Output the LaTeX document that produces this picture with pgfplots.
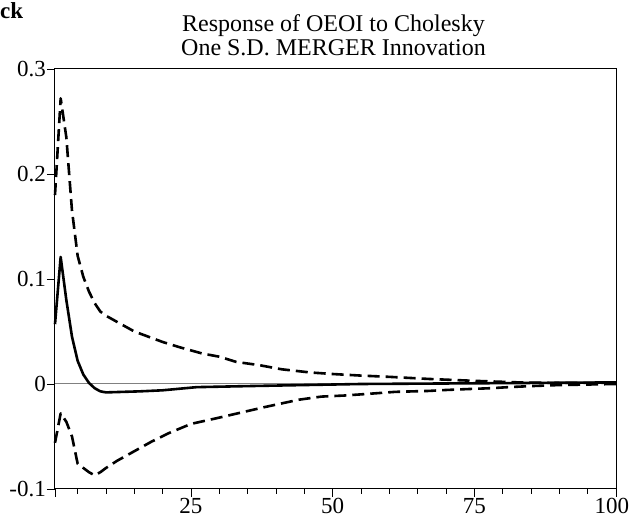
\documentclass[border=0pt]{standalone}
\usepackage{pgfplots}
\pgfplotsset{compat=1.18}
\usepackage{fontspec}
\setmainfont{Liberation Serif}
\begin{document}
\begin{tikzpicture}
\path[use as bounding box] (-55pt,-32pt) rectangle (575pt,489pt);
\begin{axis}[
  at={(0,0)}, anchor=south west,
  scale only axis, width=561pt, height=420pt,
  xmin=1, xmax=100, ymin=-0.1, ymax=0.3,
  axis line style={line width=1pt, black},
  tick align=outside,
  xtick={1,25,50,75,100}, xticklabels={,25,50,75,\makebox[26pt][r]{100}},
  minor xtick={5,10,15,20,30,35,40,45,55,60,65,70,80,85,90,95},
  ytick={-0.1,0,0.1,0.2,0.3}, yticklabels={-0.1,0,0.1,0.2,0.3},
  xtick pos=bottom, ytick pos=left,
  major tick length=8pt, minor tick length=5pt,
  tick style={black, line width=0.8pt},
  every tick label/.append style={font=\fontsize{23}{25}\selectfont},
  yticklabel style={inner sep=1pt},
  xticklabel style={inner sep=1pt},
  every axis plot/.append style={line join=round},
  clip=false,
]
\addplot[gray, line width=1pt] coordinates {(1,0) (100,0)};
\addplot[black, line width=2.6pt, dash pattern=on 12pt off 6pt] coordinates {
(1,0.180) (2,0.272) (3,0.235) (4,0.165) (5,0.122) (6,0.102) (7,0.088) (8,0.077) (9,0.069) (10,0.065)
(11,0.062) (13,0.056) (15,0.050) (18,0.044) (20,0.040) (23,0.035) (27,0.029) (30,0.026) (33,0.021)
(37,0.018) (41,0.014) (46,0.011) (50,0.0095) (55,0.008) (60,0.0068) (67,0.0048) (75,0.003) (83,0.0015)
(90,0.001) (100,0.001)};
\addplot[black, line width=2.6pt, dash pattern=on 12pt off 6pt] coordinates {
(1,-0.056) (2,-0.028) (3,-0.036) (4,-0.050) (5,-0.076) (6,-0.080) (7,-0.084) (8,-0.087) (9,-0.084)
(10,-0.080) (12,-0.073) (15,-0.064) (18,-0.055) (21,-0.047) (25,-0.038) (30,-0.032) (34,-0.027)
(38,-0.022) (44,-0.015) (48,-0.012) (52,-0.011) (56,-0.0095) (61,-0.0075) (67,-0.0066) (70,-0.0057)
(74,-0.0048) (78,-0.004) (81,-0.003) (85,-0.002) (90,-0.001) (100,0.000)};
\addplot[black, line width=2.6pt] coordinates {
(1,0.057) (2,0.121) (3,0.080) (4,0.045) (5,0.022) (6,0.009) (7,0.001) (8,-0.004) (9,-0.007) (10,-0.008)
(13,-0.0075) (16,-0.007) (20,-0.006) (26,-0.003) (35,-0.002) (45,-0.001) (55,0.000) (70,0.0005)
(85,0.001) (100,0.0015)};
\end{axis}
\node[anchor=base west, inner sep=0pt, font=\fontsize{23}{25}\selectfont\bfseries] at (-55pt,470pt) {ck};
\node[anchor=base, inner sep=0pt, font=\fontsize{24}{26}\selectfont] at (278.5pt,457pt) {Response of OEOI to Cholesky};
\node[anchor=base, inner sep=0pt, font=\fontsize{24}{26}\selectfont] at (278.5pt,433pt) {One S.D. MERGER Innovation};
\end{tikzpicture}
\end{document}
